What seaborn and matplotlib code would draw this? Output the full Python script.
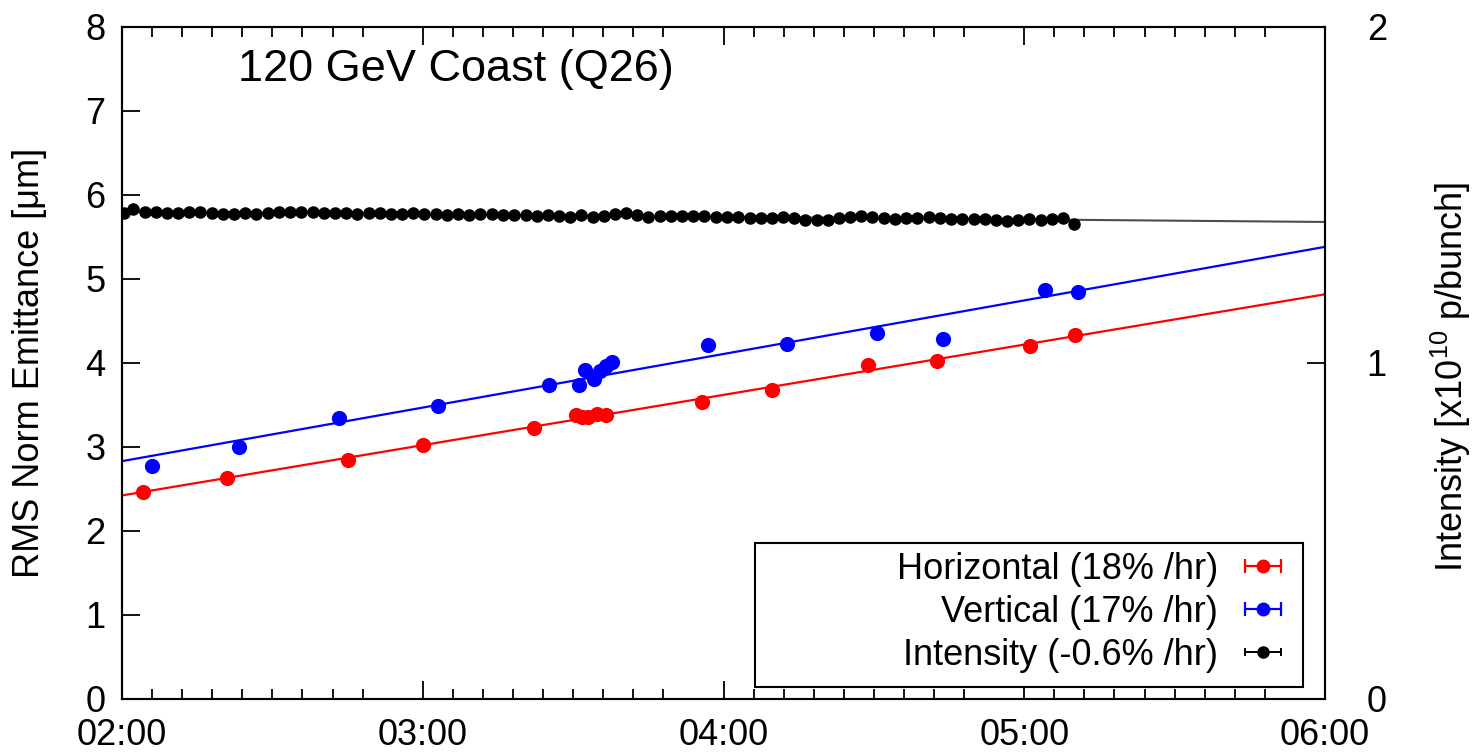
import numpy as np
import matplotlib
matplotlib.use("Agg")
import matplotlib.pyplot as plt
from matplotlib.patches import Rectangle
from matplotlib.ticker import FixedLocator
import seaborn as sns

#===============================================================
#         120 GeV COAST (Q26) - EMITTANCE GROWTH AND INTENSITY
#===============================================================

# Horizontal emittance (time in hours, emittance in um)
horiz_time = [2.07, 2.35, 2.75, 3.00, 3.37, 3.51, 3.53, 3.55, 3.58, 3.61,
              3.93, 4.16, 4.48, 4.71, 5.02, 5.17]
horiz_emit = [2.46, 2.63, 2.85, 3.02, 3.23, 3.38, 3.36, 3.36, 3.39, 3.38,
              3.54, 3.68, 3.98, 4.02, 4.20, 4.33]

# Vertical emittance
vert_time = [2.10, 2.39, 2.72, 3.05, 3.42, 3.52, 3.54, 3.57, 3.59, 3.61,
             3.63, 3.95, 4.21, 4.51, 4.73, 5.07, 5.18]
vert_emit = [2.77, 3.00, 3.35, 3.49, 3.74, 3.74, 3.92, 3.81, 3.90, 3.96,
             4.01, 4.21, 4.23, 4.36, 4.29, 4.87, 4.85]

# Bunch intensity (minutes after 02:00, x10^10 p/bunch)
int_minutes = [0.4, 2.2, 4.5, 6.7, 8.9, 11.2, 13.4, 15.6, 17.9, 20.1,
               22.4, 24.6, 26.8, 29.1, 31.3, 33.5, 35.8, 38.0, 40.2, 42.5,
               44.7, 46.9, 49.2, 51.4, 53.6, 55.9, 58.1, 60.3, 62.6, 64.8,
               67.1, 69.3, 71.5, 73.8, 76.0, 78.2, 80.5, 82.7, 84.9, 87.2,
               89.4, 91.6, 93.9, 96.1, 98.3, 100.6, 102.8, 105.0, 107.3, 109.5,
               111.8, 114.0, 116.2, 118.5, 120.7, 122.9, 125.2, 127.4, 129.6, 131.9,
               134.1, 136.3, 138.6, 140.8, 143.0, 145.3, 147.5, 149.7, 152.0, 154.2,
               156.5, 158.7, 160.9, 163.2, 165.4, 167.6, 169.9, 172.1, 174.3, 176.6,
               178.8, 181.0, 183.3, 185.5, 187.7, 190.0]
int_values = [1.446, 1.458, 1.449, 1.449, 1.446, 1.446, 1.449, 1.449, 1.446, 1.443,
              1.443, 1.446, 1.443, 1.446, 1.449, 1.449, 1.449, 1.449, 1.446, 1.446,
              1.446, 1.443, 1.446, 1.446, 1.443, 1.443, 1.446, 1.443, 1.443, 1.440,
              1.443, 1.440, 1.443, 1.443, 1.440, 1.440, 1.440, 1.438, 1.440, 1.438,
              1.435, 1.440, 1.435, 1.438, 1.443, 1.446, 1.440, 1.435, 1.438, 1.438,
              1.438, 1.438, 1.438, 1.435, 1.435, 1.435, 1.432, 1.432, 1.432, 1.435,
              1.432, 1.426, 1.426, 1.426, 1.432, 1.435, 1.438, 1.435, 1.432, 1.429,
              1.432, 1.432, 1.435, 1.432, 1.429, 1.429, 1.429, 1.429, 1.426, 1.423,
              1.426, 1.429, 1.426, 1.429, 1.432, 1.414]

hour_ticks = [2, 3, 4, 5, 6]
hour_labels = ["02:00", "03:00", "04:00", "05:00", "06:00"]
labels = ["Horizontal (18% /hr)", "Vertical (17% /hr)", "Intensity (-0.6% /hr)"]

# Set context and style
sns.set_style("ticks")
plt.rcParams["font.family"] = ["Liberation Sans", "DejaVu Sans"]
plt.rcParams["mathtext.default"] = "regular"
for key in ("axes.edgecolor", "text.color", "axes.labelcolor",
            "xtick.color", "ytick.color"):
    plt.rcParams[key] = "black"

FS = 26

fig = plt.figure(figsize=(14.74, 7.56), dpi=100)
ax = fig.add_axes([0.0828, 0.0754, 0.8161, 0.8889])
ax.set_xlim(2, 6)
ax.set_ylim(0, 8)

# Emittance points with linear fits over the full time window
for t, e, c in [(horiz_time, horiz_emit, "#ff0000"), (vert_time, vert_emit, "#0000ff")]:
    sns.regplot(x=np.array(t), y=np.array(e), ax=ax, ci=None, truncate=False,
                color=c,
                scatter_kws=dict(s=120, linewidths=0, alpha=1, zorder=3),
                line_kws=dict(lw=1.6, zorder=2))

# Intensity on the right axis
int_time = 2 + np.array(int_minutes) / 60
ax2 = ax.twinx()
ax2.set_ylim(0, 2)
sns.regplot(x=int_time, y=np.array(int_values), ax=ax2, scatter=False, ci=None,
            truncate=False, color="0.3", line_kws=dict(lw=1.5))
int_err = ax2.errorbar(int_time, int_values, xerr=0.01, fmt="o", color="black",
                       ms=8, capsize=3, elinewidth=1.4, capthick=1.4, zorder=3)

ax.set_xlim(2, 6)
ax.set_ylim(0, 8)
ax2.set_ylim(0, 2)

# Axes, ticks and labels
ax.set_xticks(hour_ticks)
ax.set_xticklabels(hour_labels)
ax.xaxis.set_minor_locator(FixedLocator([h + m / 60 for h in hour_ticks[:-1]
                                         for m in range(6, 54, 6)]))
ax.set_yticks(range(0, 9))
ax.tick_params(axis="both", which="both", direction="in", labelsize=FS,
               top=True, right=False, width=1.3, colors="black")
ax.tick_params(axis="x", which="major", length=13, pad=14)
ax.tick_params(axis="x", which="minor", length=7)
ax.tick_params(axis="y", which="major", length=13, pad=12)

ax2.set_yticks([0, 1, 2])
ax2.tick_params(axis="y", direction="in", labelsize=FS, length=13, width=1.3,
                pad=30, colors="black")

for a in (ax, ax2):
    for sp in a.spines.values():
        sp.set_visible(True)
        sp.set_linewidth(1.5)
        sp.set_color("black")

ax.set_xlabel("")
ax.set_ylabel("RMS Norm Emittance [μm]", fontsize=FS)
ax.yaxis.set_label_coords(-0.062, 0.5)
ax2.set_ylabel("Intensity [x10$^{10}$ p/bunch]", fontsize=FS)
ax2.yaxis.set_label_coords(1.086, 0.48)

ax.text(0.096, 0.936, "120 GeV Coast (Q26)", transform=ax.transAxes,
        fontsize=32.5, ha="left", va="center")

# Legend with a fixed box, entries right aligned
box = Rectangle((0.526, 0.018), 0.456, 0.214, transform=ax2.transAxes,
                facecolor="white", edgecolor="black", lw=1.5, zorder=4)
ax2.add_patch(box)
h_red = ax2.errorbar([np.nan], [np.nan], xerr=[np.nan], fmt="o", color="#ff0000",
                     ms=9, capsize=5, elinewidth=1.6, capthick=1.6)
h_blue = ax2.errorbar([np.nan], [np.nan], xerr=[np.nan], fmt="o", color="#0000ff",
                      ms=9, capsize=5, elinewidth=1.6, capthick=1.6)
leg = ax2.legend([h_red, h_blue, int_err], labels, loc="center right",
                 bbox_to_anchor=(0.968, 0.129), markerfirst=False, frameon=False,
                 fontsize=FS, handlelength=1.3, handletextpad=0.6,
                 labelspacing=0.22, borderpad=0, borderaxespad=0)
leg.set_zorder(5)

fig.savefig("out.png", dpi=100)
